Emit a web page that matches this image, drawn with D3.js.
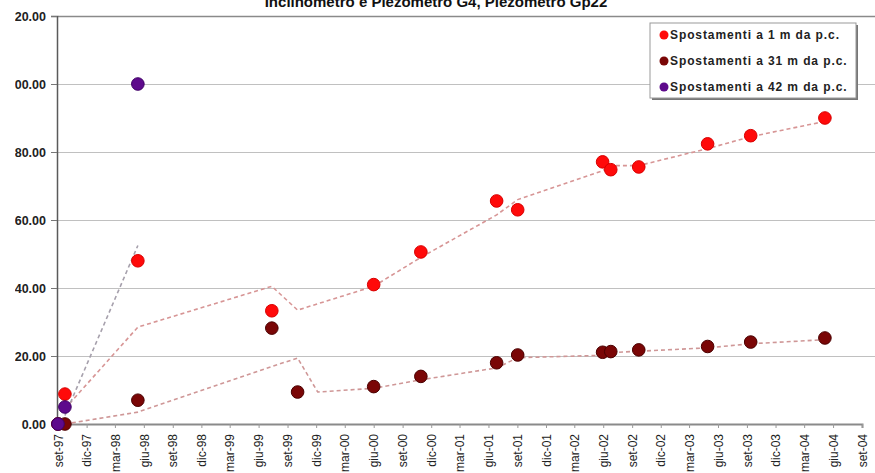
<!DOCTYPE html>
<meta charset="utf-8">
<style>
    body {
        margin: 0;
        background: #fff;
    }

    svg {
        font-family: Arial, "Liberation Sans", sans-serif;
        display: block;
    }

    .grid line {
        stroke: #c0c0c0;
        stroke-width: 1.2;
        shape-rendering: crispEdges;
    }

    .grid path {
        stroke: none;
    }

</style>
<body>
<script src="https://d3js.org/d3.v7.min.js"></script>
<script>

    // measurement dates (shared by the three series)
    const dates = ["1997-09-01", "1997-09-23", "1998-05-13", "1999-07-13", "1999-10-03",
        "2000-06-01", "2000-10-29", "2001-06-27", "2001-09-02", "2002-05-30",
        "2002-06-25", "2002-09-22", "2003-04-29", "2003-09-13", "2004-05-06"];

    const spost1m = [0, 8.8, 48, 33.3, null, 41, 50.6, 65.6, 63, 77.1, 74.8, 75.6, 82.4, 84.8, 90];
    const spost31m = [0, 0, 7, 28.2, 9.4, 11, 14, 18, 20.3, 21.1, 21.3, 21.8, 22.8, 24.1, 25.3];
    const spost42m = [0, 5, 100, null, null, null, null, null, null, null, null, null, null, null, null];

    // dashed trend lines
    const trend1mDates = ["1997-09-23", "1998-05-13", "1999-07-13", "1999-10-03", "2000-06-01",
        "2000-10-29", "2001-06-27", "2001-09-02", "2002-05-30", "2002-06-25", "2002-09-22",
        "2003-04-29", "2003-09-13", "2004-05-06"];
    const trend1m = [4.5, 28.5, 40.5, 33.5, 40.5, 49, 61.5, 66, 74.5, 76, 76, 81, 84.5, 89];

    const trend31mDates = ["1997-09-23", "1998-05-13", "1999-07-13", "1999-10-03", "1999-12-06",
        "2000-06-01", "2000-10-29", "2001-06-27", "2001-09-02", "2002-05-30", "2002-06-25",
        "2002-09-22", "2003-04-29", "2003-09-13", "2004-05-06"];
    const trend31m = [0, 3.5, 16.9, 19.4, 9.4, 10.5, 13, 16.5, 19.5, 20.2, 21, 21.4, 22.4, 23.6, 24.8];

    const trend42mDates = ["1997-09-23", "1998-05-13"];
    const trend42m = [2.5, 52.5];

    const tickLabels = ["set-97", "dic-97", "mar-98", "giu-98", "set-98", "dic-98", "mar-99",
        "giu-99", "set-99", "dic-99", "mar-00", "giu-00", "set-00", "dic-00", "mar-01",
        "giu-01", "set-01", "dic-01", "mar-02", "giu-02", "set-02", "dic-02", "mar-03",
        "giu-03", "set-03", "dic-03", "mar-04", "giu-04", "set-04"];
    const yTicks = [0, 20, 40, 60, 80, 100, 120];

    const seriesNames = ["Spostamenti a 1 m da p.c.", "Spostamenti a 31 m da p.c.", "Spostamenti a 42 m da p.c."];
    const title = "Inclinometro e Piezometro G4, Piezometro Gp22";

    const width = 875, height = 473;
    const parse = d3.timeParse("%Y-%m-%d");
    const start = parse("1997-09-01");

    const x = d3.scaleTime()
        .domain([start, parse("2004-09-01")])
        .range([58, 862]);

    const y = d3.scaleLinear()
        .domain([0, 120])
        .range([424, 16]);

    const colors = ["#ff0a0a", "#7a0606", "#5e0a8c"];
    const strokes = ["#d80000", "#4a0000", "#3f0066"];

    const svg = d3.select("body").append("svg")
        .attr("width", width)
        .attr("height", height);

    // the left edge of the source picture cuts the first digit of the top labels
    svg.append("defs").append("clipPath")
        .attr("id", "ylab")
        .append("rect")
        .attr("x", 15).attr("y", 0)
        .attr("width", width).attr("height", height);

    // gridlines
    svg.append("g")
        .attr("class", "grid")
        .attr("transform", "translate(58,0)")
        .call(d3.axisLeft(y).tickValues(yTicks.slice(1, 6)).tickSize(-(width - 58)).tickFormat(""));

    // top border of plot area
    svg.append("g")
        .attr("transform", "translate(58,0)")
        .call(d3.axisLeft(y).tickValues([120]).tickSize(-(width - 58)).tickFormat(""))
        .call(g => g.select(".domain").remove())
        .call(g => g.selectAll("line").attr("stroke", "#8a8a8a").attr("stroke-width", 1.5));

    // y axis
    const yAxis = svg.append("g")
        .attr("clip-path", "url(#ylab)")
        .append("g")
        .attr("transform", "translate(57,0)")
        .call(d3.axisLeft(y).tickValues(yTicks).tickSize(6).tickPadding(5).tickFormat(d3.format(".2f")));
    yAxis.select(".domain").attr("stroke", "#5a5a5a").attr("stroke-width", 1.5);
    yAxis.selectAll(".tick line").attr("stroke", "#777");
    yAxis.selectAll("text")
        .style("font-size", "12.5px")
        .style("font-weight", "bold")
        .style("fill", "#222");

    // x axis
    const tickDates = tickLabels.map((d, i) => d3.timeMonth.offset(start, 3 * i));
    const xAxis = svg.append("g")
        .attr("transform", "translate(0,424)")
        .call(d3.axisBottom(x).tickValues(tickDates).tickSize(4).tickFormat((d, i) => tickLabels[i]));
    xAxis.select(".domain").attr("stroke", "#8a8a8a").attr("stroke-width", 2);
    xAxis.selectAll(".tick line").attr("stroke", "#999");
    xAxis.selectAll("text")
        .attr("transform", "rotate(-90)")
        .attr("x", -10)
        .attr("y", 0)
        .attr("dy", "0.35em")
        .style("text-anchor", "end")
        .style("font-size", "12px")
        .style("fill", "#222");

    // dashed trend lines
    const line = d3.line()
        .x(d => x(d[0]))
        .y(d => y(d[1]));

    const trends = [
        {dates: trend1mDates, values: trend1m, color: "#d79595"},
        {dates: trend31mDates, values: trend31m, color: "#cf9797"},
        {dates: trend42mDates, values: trend42m, color: "#a6a0ac"}
    ];

    svg.selectAll(".trend")
        .data(trends)
        .enter().append("path")
        .attr("class", "trend")
        .attr("fill", "none")
        .attr("stroke", d => d.color)
        .attr("stroke-width", 1.6)
        .attr("stroke-dasharray", "4,3")
        .attr("d", d => line(d.dates.map((t, i) => [parse(t), d.values[i]])));

    // markers
    [spost1m, spost31m, spost42m].forEach((vals, s) => {
        const pts = dates.map((t, i) => ({date: parse(t), v: vals[i]})).filter(d => d.v !== null);
        svg.append("g")
            .selectAll("circle")
            .data(pts)
            .enter().append("circle")
            .attr("cx", d => x(d.date))
            .attr("cy", d => y(d.v))
            .attr("r", 6.3)
            .attr("fill", colors[s])
            .attr("stroke", strokes[s])
            .attr("stroke-width", 1);
    });

    // title (its top is cut by the picture's edge, as in the source)
    svg.append("text")
        .attr("x", 436)
        .attr("y", 7)
        .attr("text-anchor", "middle")
        .style("font-size", "15px")
        .style("font-weight", "bold")
        .style("fill", "#111")
        .text(title);

    // legend
    const legend = svg.append("g")
        .attr("transform", "translate(650,23)");

    legend.append("rect")
        .attr("x", 2).attr("y", 2)
        .attr("width", 206).attr("height", 75)
        .attr("fill", "#777");
    legend.append("rect")
        .attr("width", 206).attr("height", 75)
        .attr("fill", "#fff")
        .attr("stroke", "#999");

    const items = legend.selectAll(".legend")
        .data(seriesNames)
        .enter().append("g")
        .attr("class", "legend")
        .attr("transform", (d, i) => "translate(0," + (12 + i * 26) + ")");

    items.append("circle")
        .attr("cx", 14)
        .attr("r", 4.5)
        .attr("fill", (d, i) => colors[i]);

    items.append("text")
        .attr("x", 20)
        .attr("dy", "0.35em")
        .style("font-size", "12px")
        .style("font-weight", "bold")
        .style("letter-spacing", "0.9px")
        .style("fill", "#222")
        .text(d => d);

</script>
</body>
